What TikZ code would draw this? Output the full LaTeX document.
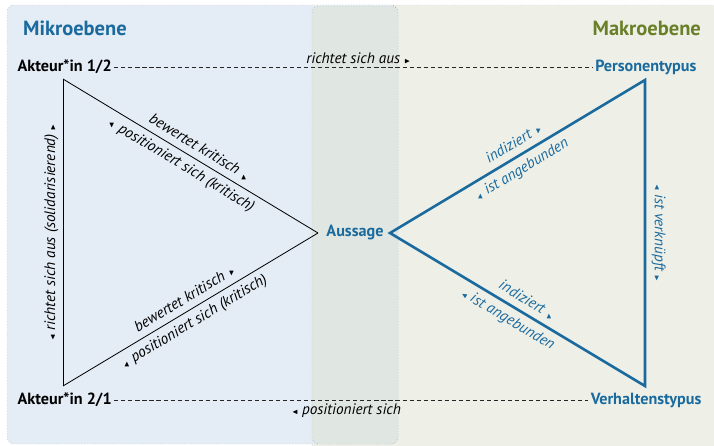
\documentclass[tikz,border=0pt]{standalone}
\usepackage{amssymb}
\usepackage{graphicx}
\usepackage{fontspec}
\setmainfont{PT Sans}[Numbers=OldStyle]
\usetikzlibrary{positioning}

\definecolor{ebeneblau}{RGB}{26,106,158}
\definecolor{makrogruen}{RGB}{106,128,40}
\definecolor{mikrobg}{RGB}{228,236,245}
\definecolor{makrobg}{RGB}{238,240,232}
\definecolor{mittebg}{RGB}{224,231,227}

\newcommand{\pfeil}[1]{\rotatebox[origin=c]{#1}{\scalebox{0.5}{$\blacktriangleright$}}}

\begin{document}
\begin{tikzpicture}[x=0.03cm, y=-0.03cm,
  panel/.style={draw=black!45, dotted, rounded corners=6pt},
  titel/.style={font=\bfseries\fontsize{17.5}{20}\selectfont},
  akteur/.style={font=\bfseries\fontsize{13.8}{16}\selectfont, inner sep=2pt},
  typ/.style={font=\bfseries\fontsize{13.8}{16}\selectfont, text=ebeneblau, inner sep=2pt},
  lbl/.style={font=\itshape\fontsize{13}{15}\selectfont, inner sep=1.5pt},
  mikrolinie/.style={draw=black, line width=0.7pt},
  makrolinie/.style={draw=ebeneblau, line width=2.2pt, line join=miter},
  strich/.style={draw=black!85, line width=0.6pt, dash pattern=on 3.5pt off 2.5pt}]

\useasboundingbox (0,0) rectangle (714,446);
\clip (0,0) rectangle (714,446);

% Ebenen
\draw[panel, fill=makrobg] (312,5) rectangle (730,460);
\draw[panel, fill=mikrobg] (7,5) rectangle (398,444);
\draw[panel, fill=mittebg] (312,6) rectangle (398,444);

\node[titel, anchor=west, text=ebeneblau] (mikro) at (19,28) {Mikroebene};
\node[titel, anchor=east, text=makrogruen] (makro) at (705,28) {Makroebene};

% Ecken
\node[akteur, anchor=west] (akt1) at (15,67) {Akteur*in 1/2};
\node[akteur, anchor=west] (akt2) at (15,400) {Akteur*in 2/1};
\node[typ, anchor=east] (pers) at (699,67) {Personentypus};
\node[typ, anchor=east] (verh) at (704,400) {Verhaltenstypus};
\node[typ] (aussage) at (355,233) {Aussage};

\coordinate (m1) at (63,79);
\coordinate (m2) at (63,386);
\coordinate (m3) at (318,233);
\coordinate (k3) at (390,233);
\coordinate (k1) at (645,80);
\coordinate (k2) at (645,386);

% Mikro-Dreieck
\draw[mikrolinie] (m1) -- node[lbl, above=3pt, sloped, pos=.51] {bewertet kritisch \pfeil{121}}
  node[lbl, below=3pt, sloped, pos=.49] {\pfeil{-59} positioniert sich (kritisch)} (m3);
\draw[mikrolinie] (m2) -- node[lbl, above=3pt, sloped, pos=.50] {bewertet kritisch \pfeil{-121}}
  node[lbl, below=3pt, sloped, pos=.49] {\pfeil{59} positioniert sich (kritisch)} (m3);
\draw[mikrolinie] (m2) -- node[lbl, above=2pt, sloped] {\pfeil{180} richtet sich aus (solidarisierend) \pfeil{0}} (m1);

% Makro-Dreieck
\draw[makrolinie] (k1) -- (k3) -- (k2) -- cycle;
\path (k3) -- node[lbl, text=ebeneblau, above=4pt, sloped, pos=.51] {indiziert \pfeil{-121}}
  node[lbl, text=ebeneblau, below=4pt, sloped, pos=.49] {\pfeil{59} ist angebunden} (k1);
\path (k3) -- node[lbl, text=ebeneblau, above=4pt, sloped, pos=.51] {indiziert \pfeil{121}}
  node[lbl, text=ebeneblau, below=4pt, sloped, pos=.49] {\pfeil{180} ist angebunden} (k2);
\path (k1) -- node[lbl, text=ebeneblau, above=4pt, sloped] {\pfeil{180} ist verknüpft \pfeil{0}} (k2);

% Beziehungen zwischen den Ebenen
\draw[strich] (akt1) -- node[lbl, above=1pt, pos=.51] {richtet sich aus \pfeil{0}} (pers);
\draw[strich] (akt2) -- node[lbl, below=1pt, pos=.49] {\pfeil{180} positioniert sich} (verh);

\end{tikzpicture}
\end{document}
